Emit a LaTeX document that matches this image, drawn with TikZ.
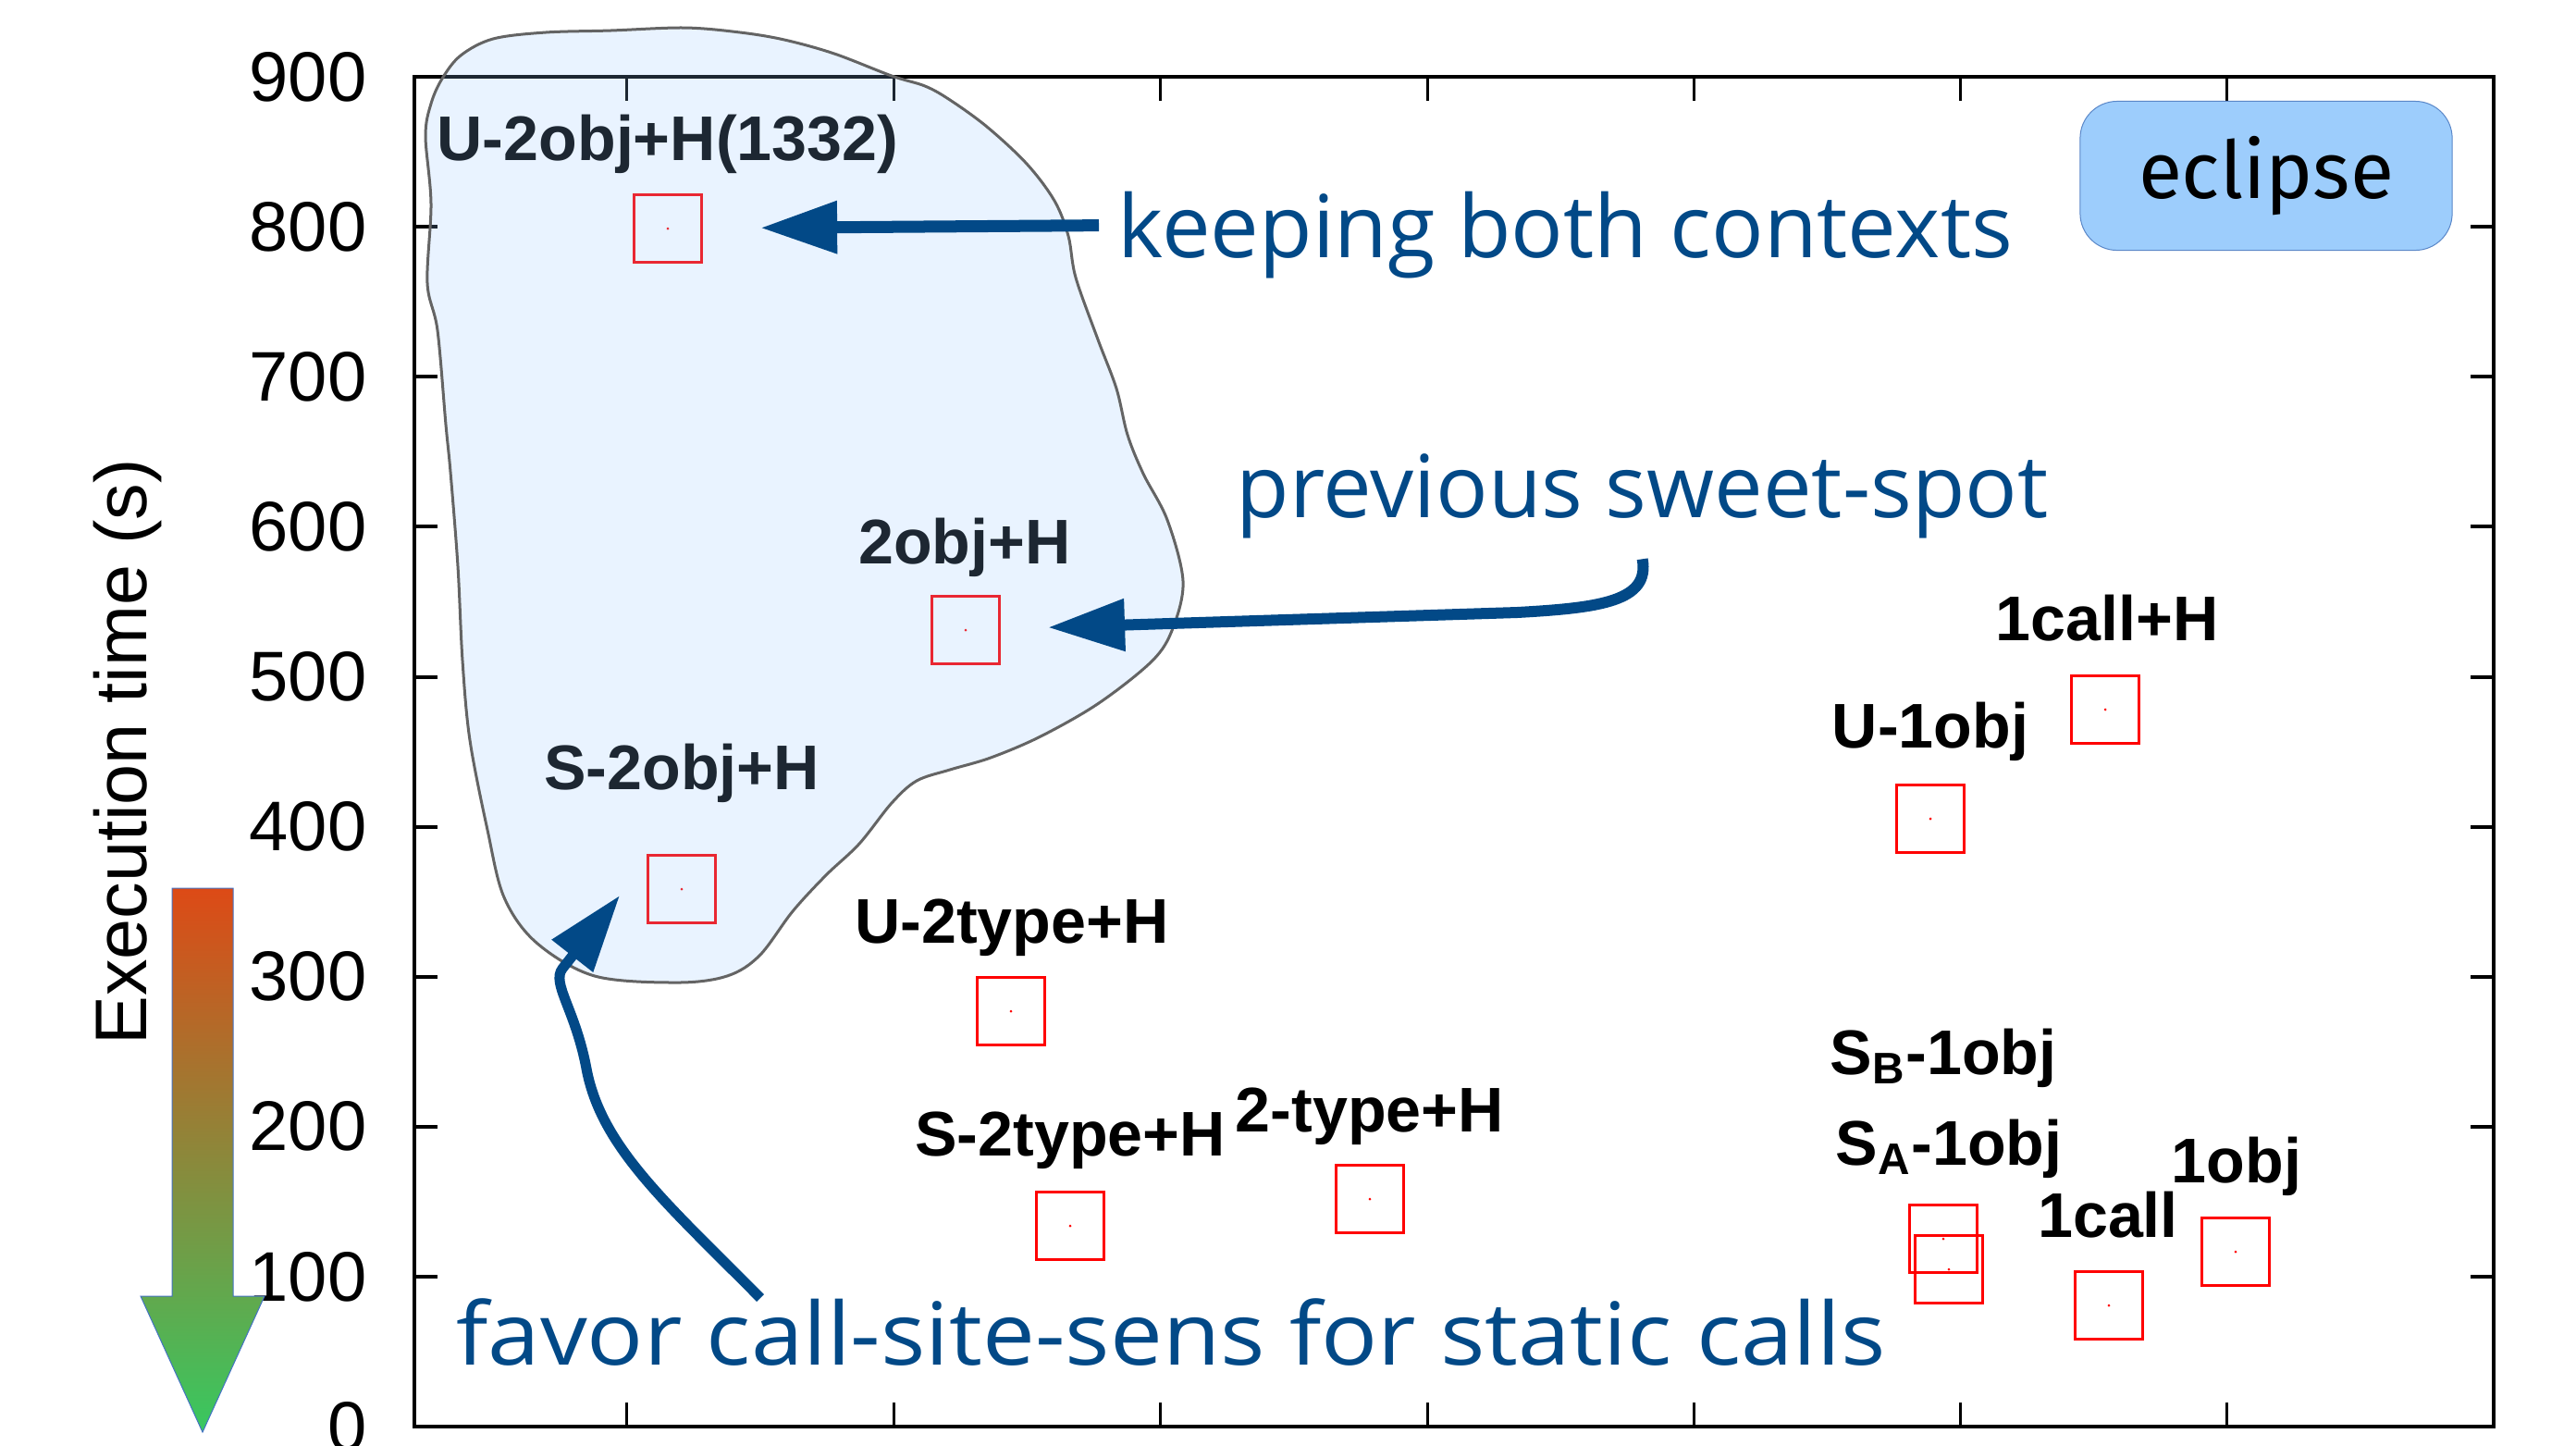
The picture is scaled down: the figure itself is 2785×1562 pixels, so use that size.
\documentclass[tikz,border=0pt]{standalone}
\usepackage{fontspec}
\setmainfont{Liberation Sans}
\newfontfamily\handfont{Open Sans}
\newfontfamily\boxfont{Fira Sans}
\usetikzlibrary{arrows.meta}
\definecolor{annblue}{RGB}{2,73,135}
\definecolor{blobfill}{RGB}{146,195,254}
\definecolor{blobline}{RGB}{100,100,100}
\definecolor{boxfill}{RGB}{157,205,252}
\definecolor{boxline}{RGB}{90,135,200}
\definecolor{hot}{RGB}{221,74,22}
\definecolor{cool}{RGB}{56,200,96}
\definecolor{arrline}{RGB}{68,114,196}

\begin{document}
\begin{tikzpicture}[x=0.01cm,y=-0.01cm,
  datapt/.style={draw=red,line width=0.03cm,minimum size=0.73cm,inner sep=0pt,
    path picture={\fill[red] (path picture bounding box.center) circle (0.015cm);}},
  lbl/.style={anchor=base,inner sep=0pt,font=\bfseries\fontsize{19.4pt}{22pt}\selectfont},
  ylab/.style={anchor=east,inner sep=0pt,font=\fontsize{21.6pt}{24pt}\selectfont},
  note/.style={anchor=base west,text=annblue,inner sep=0.2cm,font=\handfont\fontsize{26.7pt}{30pt}\selectfont},
  pointer/.style={draw=annblue,line width=0.13cm,-{Triangle[length=0.83cm,width=0.54cm]}}]
  \useasboundingbox (0,0) rectangle (2785,1562);

  % frame and ticks
  \draw[line width=0.04cm] (448,83) rectangle (2696,1542);
  \foreach \v in {0,100,...,900} {
    \draw[line width=0.04cm] (448,{1542-1.621*\v}) -- ++(25,0);
    \draw[line width=0.04cm] (2696,{1542-1.621*\v}) -- ++(-25,0);
    \node[ylab] (y\v) at (397,{1542-1.621*\v}) {\v};
  }
  \foreach \x in {677,966,1254,1543,1831,2119,2407} {
    \draw[line width=0.03cm] (\x,83) -- ++(0,26);
    \draw[line width=0.03cm] (\x,1542) -- ++(0,-26);
  }
  \node[rotate=90,inner sep=0pt,font=\fontsize{22.5pt}{25pt}\selectfont] (ylabel) at (138,813) {Execution time (s)};

  % faster is better
  \shadedraw[top color=hot,bottom color=cool,draw=arrline,line width=0.01cm]
    (186,960) -- (252,960) -- (252,1401) -- (286,1401) -- (219,1548) -- (152,1401) -- (186,1401) -- cycle;

  % data points
  \node[datapt] (p1) at (722,247) {};
  \node[datapt] (p2) at (1044,681) {};
  \node[datapt] (p3) at (737,961) {};
  \node[datapt] (p4) at (1093,1093) {};
  \node[datapt] (p5) at (1157,1325) {};
  \node[datapt] (p6) at (1481,1296) {};
  \node[datapt] (p7) at (2087,885) {};
  \node[datapt] (p8) at (2276,767) {};
  \node[datapt] (p9) at (2101,1339) {};
  \node[datapt] (p10) at (2107,1372) {};
  \node[datapt] (p11) at (2280,1411) {};
  \node[datapt] (p12) at (2417,1353) {};

  \node[lbl] (l1) at (722,173) {U-2obj+H(1332)};
  \node[lbl] (l2) at (1043,609) {2obj+H};
  \node[lbl] (l3) at (737,853) {S-2obj+H};
  \node[lbl] (l4) at (1094,1019) {U-2type+H};
  \node[lbl] (l5) at (1157,1249) {S-2type+H};
  \node[lbl] (l6) at (1481,1223) {2-type+H};
  \node[lbl] (l7) at (2087,808) {U-1obj};
  \node[lbl] (l8) at (2278,692) {1call+H};
  \node[lbl] (l9) at (2101,1161) {S\textsubscript{B}-1obj};
  \node[lbl] (l10) at (2107,1259) {S\textsubscript{A}-1obj};
  \node[lbl] (l11) at (2279,1337) {1call};
  \node[lbl] (l12) at (2418,1278) {1obj};

  % two-object cluster
  \path[fill=blobfill,fill opacity=0.2,draw=blobline,line width=0.03cm]
    plot[smooth cycle,tension=0.55] coordinates {
      (498,60) (533,42) (590,35) (660,33) (740,30) (800,35) (848,43) (902,58)
      (964,82) (1000,93) (1027,108) (1067,137) (1110,177) (1140,217) (1155,255)
      (1163,300) (1187,367) (1207,420) (1219,470) (1236,512) (1262,562)
      (1279,628) (1268,679) (1246,714) (1188,760) (1125,796)
      (1071,819) (1027,832) (991,844) (964,868) (929,912) (893,946) (857,985)
      (821,1033) (786,1055) (732,1062) (643,1055) (580,1019) (545,970) (527,897)
      (508,800) (500,714) (495,612) (487,510) (482,459) (473,357) (462,306)
      (466,220) (460,147) (466,112) (478,85)};

  \node[fill=boxfill,draw=boxline,line width=0.01cm,rounded corners=0.4cm,
    minimum width=4.02cm,minimum height=1.61cm,
    font=\boxfont\fontsize{24.5pt}{28pt}\selectfont] (eclipse) at (2450,190) {eclipse};

  % annotations
  \node[note] (keep) at (1188,278) {keeping both contexts};
  \node[note] (prev) at (1316,559) {previous sweet-spot};
  \node[note,xscale=1.08] (fav) at (471,1475) {favor call-site-sens for static calls};
  \coordinate (favtail) at (822,1403);
  \coordinate (favtip) at (670,968);

  \draw[pointer,shorten >=0.62cm] ([yshift=0.1cm]keep.west) -- (p1);
  \draw[pointer,line width=0.12cm,shorten >=0.51cm] ([yshift=-0.02cm]prev.south)
    .. controls (1784,650) and (1730,657) .. (1640,662) -- (p2);
  \draw[pointer,line width=0.11cm] (favtail) .. controls (720,1300) and (650,1240) .. (634,1155)
    .. controls (622,1091) and (596,1063) .. (608,1047) -- (favtip);
\end{tikzpicture}
\end{document}
